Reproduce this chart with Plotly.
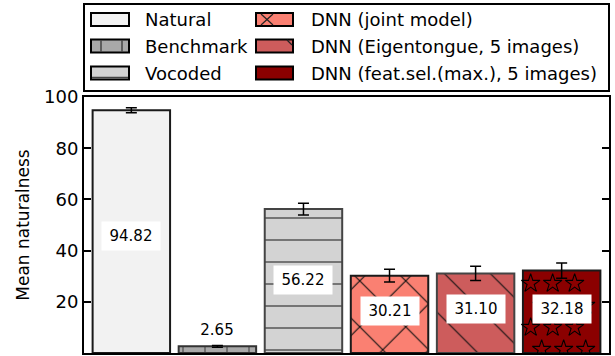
import numpy as np
import plotly.graph_objects as go

# ---- data ----
categories = ["Natural", "Benchmark", "Vocoded",
              "DNN (joint model)", "DNN (Eigentongue, 5 images)",
              "DNN (feat.sel.(max.), 5 images)"]
values = [94.82, 2.65, 56.22, 30.21, 31.10, 32.18]
errors = [1.0, 0.4, 2.3, 2.5, 2.8, 3.0]
value_labels = ["94.82", "2.65", "56.22", "30.21", "31.10", "32.18"]
label_y = [45.6, 8.9, 28.5, 16.4, 17.0, 17.3]
y_ticks = [0, 20, 40, 60, 80, 100]

# ---- styles ----
fills = ["#f2f2f2", "#a9a9a9", "#d3d3d3", "#fa8072", "#cd5c5c", "#8b0000"]
edges = ["#1a1a1a", "#333333", "#444444", "#1a1a1a", "#444444", "#1a1a1a"]
patterns = [
    dict(shape=""),
    dict(shape="|", size=22, solidity=0.06, fgcolor="#555555", bgcolor=fills[1], fillmode="replace"),
    dict(shape="-", size=22, solidity=0.06, fgcolor="#444444", bgcolor=fills[2], fillmode="replace"),
    dict(shape="x", size=32.5, solidity=0.07, fgcolor="#111111", bgcolor=fills[3], fillmode="replace"),
    dict(shape="\\", size=32.5, solidity=0.035, fgcolor="#111111", bgcolor=fills[4], fillmode="replace"),
    dict(shape=""),
]

W, H = 615, 356
L, R, T, B = 84, 6, 97, 3
PW, PH = W - L - R, H - T - B

fig = go.Figure()
xs = list(range(len(categories)))
for i, cat in enumerate(categories):
    fig.add_trace(go.Bar(
        x=[xs[i]], y=[values[i]], width=0.9, name=cat, showlegend=False,
        marker=dict(color=fills[i], line=dict(color=edges[i], width=2),
                    pattern=patterns[i]),
        error_y=dict(type="data", array=[errors[i]], color="black",
                     thickness=1.5, width=5.5),
    ))

# star texture on last bar (decorative hatch derived from bar geometry)
bi = 5
px_per_x = PW / 6.1
px_per_y = PH / 100.0
dy = 22 / px_per_y
sx, sy = [], []
for r_i, yy in enumerate(np.arange(1.4, values[bi] - 4, dy)):
    offs = [-20, 2, 24] if r_i % 2 == 0 else [-31, -9, 13]
    for o in offs:
        sx.append(xs[bi] + o / px_per_x)
        sy.append(yy)
fig.add_trace(go.Scatter(x=sx, y=sy, mode="markers", showlegend=False, hoverinfo="skip",
                         marker=dict(symbol="star-open", size=14, color="black",
                                     line=dict(color="black", width=1.1))))

# value labels
for i in range(len(categories)):
    fig.add_annotation(x=xs[i], y=label_y[i], text=value_labels[i], showarrow=False,
                       font=dict(family="DejaVu Sans", size=15, color="black"),
                       bgcolor="white", width=50, height=20, borderpad=4)

# ---- custom legend ----
def px2x(p):
    return (p - L) / PW

def py2y(p):
    return (H - B - p) / PH

def pline(x0, y0, x1, y1, color="#333333", width=1.2):
    fig.add_shape(type="line", xref="paper", yref="paper",
                  x0=px2x(x0), y0=py2y(y0), x1=px2x(x1), y1=py2y(y1),
                  line=dict(color=color, width=width))

fig.add_shape(type="rect", xref="paper", yref="paper",
              x0=px2x(84), x1=px2x(609), y0=py2y(91), y1=py2y(4),
              line=dict(color="black", width=2), fillcolor="white")
col_patch = [(91, 129), (256, 293)]
col_text = [143, 309]
row_y = [19.5, 46, 73]
for k in range(len(categories)):
    c, r = divmod(k, 3)
    x0, x1 = col_patch[c]
    yc = row_y[r]
    fig.add_shape(type="rect", xref="paper", yref="paper",
                  x0=px2x(x0), x1=px2x(x1), y0=py2y(yc + 6.5), y1=py2y(yc - 6.5),
                  line=dict(color="black", width=2), fillcolor=fills[k])
    fig.add_annotation(xref="paper", yref="paper", x=px2x(col_text[c]), y=py2y(yc),
                       xanchor="left", yanchor="middle", showarrow=False,
                       text=categories[k],
                       font=dict(family="DejaVu Sans", size=18, color="black"))

# hatch fragments inside legend patches
pline(101, 40, 101, 52, "#444444", 1.5)
pline(122, 40, 122, 52, "#444444", 1.5)
pline(92, 77.5, 128, 77.5, "#444444", 1.5)
pline(261, 14, 273, 25, "#222222", 1.2)
pline(261, 25, 273, 14, "#222222", 1.2)
pline(287, 40, 292, 45, "#222222", 1.2)

fig.update_layout(
    width=W, height=H, margin=dict(l=L, r=R, t=T, b=B, autoexpand=False),
    paper_bgcolor="white", plot_bgcolor="white", barmode="overlay",
    font=dict(family="DejaVu Sans", size=18, color="black"),
)
fig.update_xaxes(range=[-0.55, 5.55], showticklabels=False, ticks="",
                 showline=True, linecolor="black", linewidth=2, mirror=True,
                 showgrid=False, zeroline=False, automargin=False)
fig.update_yaxes(range=[0, 100], tickvals=y_ticks, ticks="inside", ticklen=7,
                 tickwidth=1.5, tickcolor="black", mirror="ticks",
                 showline=True, linecolor="black", linewidth=2,
                 showgrid=False, zeroline=False, automargin=False,
                 tickfont=dict(family="DejaVu Sans", size=18),
                 title=dict(text="Mean naturalness", standoff=10,
                            font=dict(family="DejaVu Sans", size=17)))

fig.write_html("out.html", config={"displayModeBar": False},
               post_script="document.body.style.margin='0';document.body.style.padding='0';")
